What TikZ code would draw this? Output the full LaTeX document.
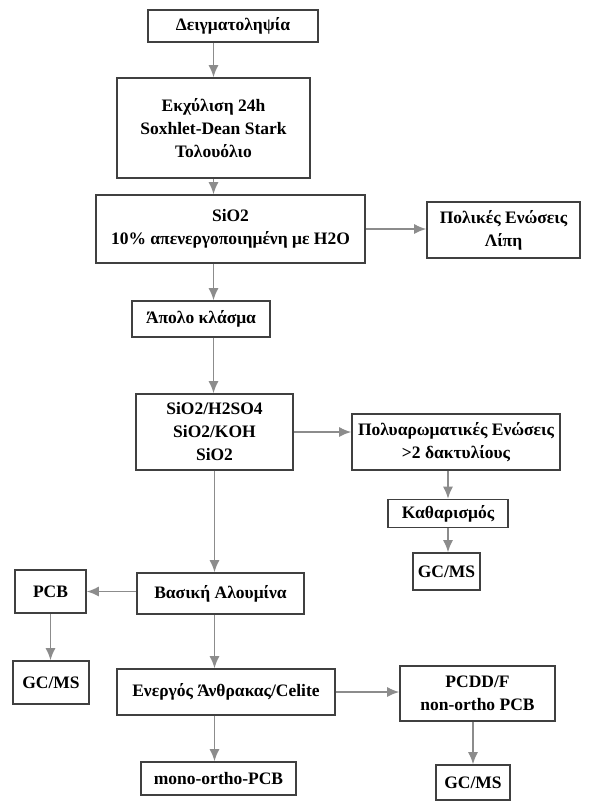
\documentclass[tikz,border=0pt]{standalone}
\usepackage{fontspec}
\setmainfont{Liberation Serif}
\usetikzlibrary{arrows.meta}

\tikzset{
  box/.style={draw=black!75, line width=1.6pt, align=center, inner sep=2pt,
    font=\fontsize{17.5}{23}\selectfont\bfseries},
  arr/.style={draw=black!45, line width=1.5pt, -{Latex[length=12pt,width=10pt]}}
}

\begin{document}
\begin{tikzpicture}[x=1pt,y=-1pt]
\useasboundingbox (0,0) rectangle (590,807);
\node[box, minimum width=170pt, minimum height=32pt] (samp) at (233,26) {Δειγματοληψία};
\node[box, minimum width=193pt, minimum height=100pt] (extr) at (213.5,128) {Εκχύλιση 24h\\Soxhlet-Dean Stark\\Τολουόλιο};
\node[box, minimum width=269pt, minimum height=68pt] (sio) at (230.5,229) {SiO2\\10\% απενεργοποιημένη με H2O};
\node[box, minimum width=153pt, minimum height=56pt] (polar) at (503.5,230) {Πολικές Ενώσεις\\Λίπη};
\node[box, minimum width=138pt, minimum height=36pt] (apolar) at (201,319) {Άπολο κλάσμα};
\node[box, minimum width=157pt, minimum height=76pt] (clean) at (214.5,432) {SiO2/H2SO4\\SiO2/KOH\\SiO2};
\node[box, minimum width=208pt, minimum height=56pt] (pah) at (456,442) {Πολυαρωματικές Ενώσεις\\>2 δακτυλίους};
\node[box, minimum width=120pt, minimum height=28pt] (kath) at (448,513.5) {Καθαρισμός};
\node[box, minimum width=67pt, minimum height=37pt] (gcpah) at (446.5,571.5) {GC/MS};
\node[box, minimum width=167pt, minimum height=41pt] (alum) at (220.5,593.5) {Βασική Αλουμίνα};
\node[box, minimum width=71pt, minimum height=43pt] (pcb) at (50.5,591.5) {PCB};
\node[box, minimum width=76pt, minimum height=43pt] (gcpcb) at (51,682.5) {GC/MS};
\node[box, minimum width=218pt, minimum height=46pt] (carb) at (226,692) {Ενεργός Άνθρακας/Celite};
\node[box, minimum width=155pt, minimum height=55pt] (pcdd) at (477.5,693.5) {PCDD/F\\non-ortho PCB};
\node[box, minimum width=74pt, minimum height=35pt] (gcdd) at (473,782.5) {GC/MS};
\node[box, minimum width=155pt, minimum height=33pt] (mono) at (218.5,778.5) {mono-ortho-PCB};
\path [every edge/.style=arr]
    (samp.south -| extr.north) edge (extr.north)
    (extr.south) edge (extr.south |- sio.north)
    (sio.east) edge (sio.east -| polar.west)
    (extr.south |- sio.south) edge (extr.south |- apolar.north)
    (extr.south |- apolar.south) edge (extr.south |- clean.north)
    (clean.east) edge (clean.east -| pah.west)
    (kath.north |- pah.south) edge (kath.north)
    (kath.south) edge (kath.south |- gcpah.north)
    (clean.south) edge (clean.south |- alum.north)
    (alum.west |- pcb.east) edge (pcb.east)
    (pcb.south) edge (pcb.south |- gcpcb.north)
    (clean.south |- alum.south) edge (clean.south |- carb.north)
    (carb.east) edge (carb.east -| pcdd.west)
    (gcdd.north |- pcdd.south) edge (gcdd.north)
    (clean.south |- carb.south) edge (clean.south |- mono.north);
\end{tikzpicture}
\end{document}
